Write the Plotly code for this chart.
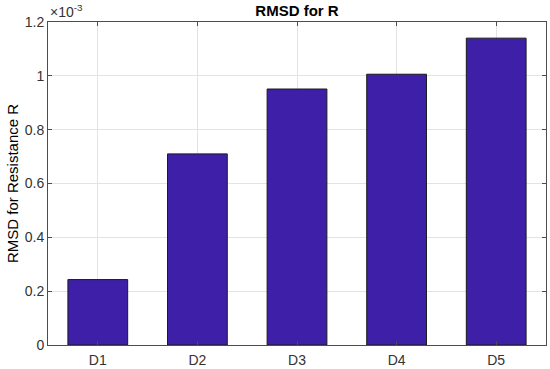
import plotly.graph_objects as go

# data
categories = ["D1", "D2", "D3", "D4", "D5"]
rmsd_values = [0.243e-3, 0.710e-3, 0.951e-3, 1.006e-3, 1.140e-3]
y_ticks = [0, 0.2e-3, 0.4e-3, 0.6e-3, 0.8e-3, 1.0e-3, 1.2e-3]
y_tick_labels = ["0", "0.2", "0.4", "0.6", "0.8", "1", "1.2"]

FONT = "Liberation Sans, Arial"

fig = go.Figure()
fig.add_trace(go.Bar(
    x=categories,
    y=rmsd_values,
    width=0.6,
    marker=dict(color="rgb(62,32,168)", line=dict(color="#1a1a1a", width=1)),
))

axis_common = dict(
    showline=True, linecolor="#4d4d4d", linewidth=1, mirror="ticks",
    ticks="inside", ticklen=4, tickcolor="#4d4d4d",
    showgrid=True, gridcolor="#e3e3e3", gridwidth=1,
    tickfont=dict(family=FONT, size=14, color="#333333"),
    zeroline=False, automargin=False,
)

fig.update_layout(
    width=550, height=369,
    margin=dict(l=48, r=4, t=22, b=24),
    paper_bgcolor="white", plot_bgcolor="white",
    showlegend=False,
    title=dict(text="<b>RMSD for R</b>", xref="paper", x=0.5, xanchor="center",
               yref="container", y=0.97, yanchor="middle",
               font=dict(family=FONT, size=15, color="black")),
    xaxis=dict(axis_common, range=[-0.5, 4.5], ticklabelstandoff=2),
    yaxis=dict(axis_common, range=[0, 1.2e-3], tickvals=y_ticks, ticktext=y_tick_labels,
               title=dict(text="RMSD for Resistance R", standoff=2,
                          font=dict(family=FONT, size=15, color="black"))),
    annotations=[dict(text="×10<sup>-3</sup>", xref="paper", yref="paper", x=0.0, y=1.0,
                      xanchor="left", yanchor="bottom", showarrow=False,
                      font=dict(family=FONT, size=14, color="#333333"))],
)

# page body has a default margin; remove it so the figure fills the window
fig.write_html("out.html", config={"displayModeBar": False},
               post_script="document.body.style.margin='0';")
